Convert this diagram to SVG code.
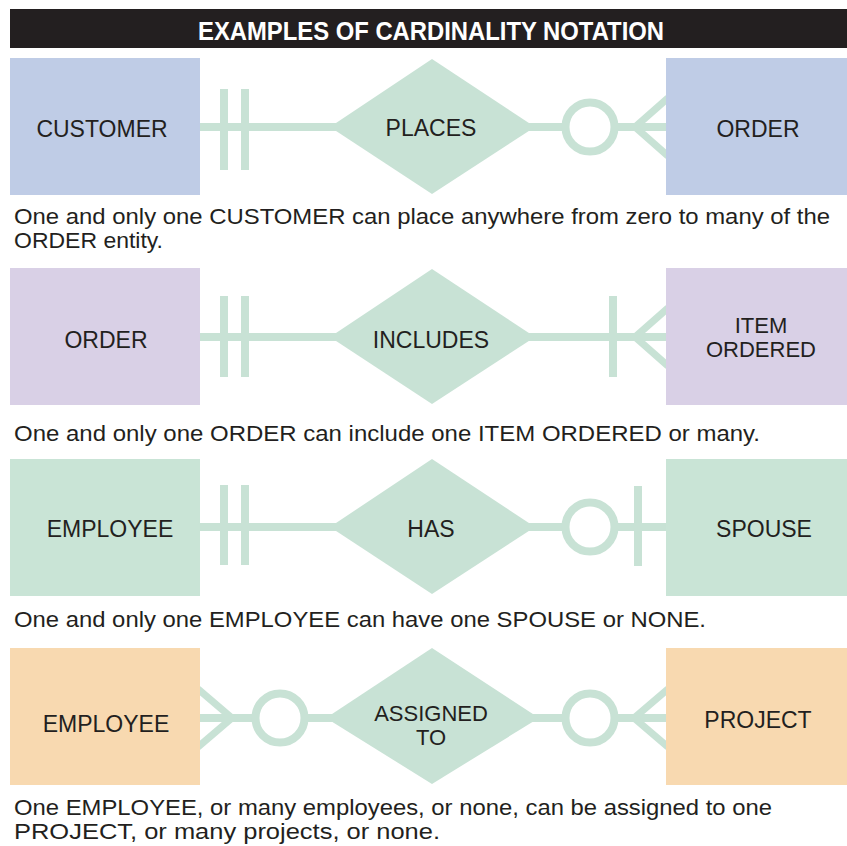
<svg xmlns="http://www.w3.org/2000/svg" width="847" height="846" viewBox="0 0 847 846">
<style>
.ln{stroke:#c8e2d5;stroke-width:8;fill:none}
.cf{stroke:#c8e2d5;stroke-width:7;fill:none}
.ring{stroke:#c8e2d5;stroke-width:8;fill:#ffffff}
.tk{fill:#c8e2d5}
.dia{fill:#c8e2d5}
.lbl{font-family:"Liberation Sans",Arial,sans-serif;font-size:23px;fill:#231f20;text-anchor:middle}
.lbl2{font-family:"Liberation Sans",Arial,sans-serif;font-size:22px;fill:#231f20;text-anchor:middle}
.desc{font-family:"Liberation Sans",Arial,sans-serif;font-size:22.5px;fill:#231f20}
.blue{fill:#bfcce6}.purple{fill:#d9d0e6}.green{fill:#c9e4d6}.orange{fill:#f8d9b0}
</style>
<rect width="847" height="846" fill="#ffffff"/>
<g id="header">
<rect x="10" y="9" width="837" height="39" fill="#231f20"/>
<text x="431" y="40" font-family="'Liberation Sans',Arial,sans-serif" font-size="26" font-weight="bold" fill="#ffffff" text-anchor="middle" textLength="466" lengthAdjust="spacingAndGlyphs">EXAMPLES OF CARDINALITY NOTATION</text>
</g>
<g id="connectors">
<line class="ln" x1="200" y1="127" x2="666" y2="127"/>
<rect class="tk" x="220" y="89" width="8" height="81"/>
<rect class="tk" x="241" y="89" width="8" height="81"/>
<circle class="ring" cx="590" cy="127" r="24.5"/>
<polyline class="cf" points="668,98 635,127 668,156"/>
<line class="ln" x1="200" y1="337" x2="666" y2="337"/>
<rect class="tk" x="220" y="296" width="8" height="81"/>
<rect class="tk" x="241" y="296" width="8" height="81"/>
<rect class="tk" x="609" y="296" width="8" height="81"/>
<polyline class="cf" points="668,308 635,337 668,366"/>
<line class="ln" x1="200" y1="527" x2="666" y2="527"/>
<rect class="tk" x="220" y="485" width="8" height="80"/>
<rect class="tk" x="241" y="485" width="8" height="80"/>
<circle class="ring" cx="590" cy="527" r="24.5"/>
<rect class="tk" x="634" y="486" width="8" height="80"/>
<line class="ln" x1="200" y1="718" x2="666" y2="718"/>
<polyline class="cf" points="198,689 232,718 198,747"/>
<circle class="ring" cx="280" cy="718" r="24.5"/>
<circle class="ring" cx="590" cy="718" r="24.5"/>
<polyline class="cf" points="668,689 634,718 668,747"/>
</g>
<g id="customer"><rect class="blue" x="10" y="58" width="190" height="137"/><text class="lbl" x="102" y="137">CUSTOMER</text></g>
<g id="places"><polygon class="dia" points="330,127 432,59 535,127 432,194"/><text class="lbl" x="431" y="136">PLACES</text></g>
<g id="order1"><rect class="blue" x="666" y="58" width="181" height="137"/><text class="lbl" x="758" y="137">ORDER</text></g>
<text class="desc" x="14" y="224" textLength="816" lengthAdjust="spacingAndGlyphs">One and only one CUSTOMER can place anywhere from zero to many of the</text>
<text class="desc" x="14" y="248" textLength="149" lengthAdjust="spacingAndGlyphs">ORDER entity.</text>
<g id="order2"><rect class="purple" x="10" y="268" width="190" height="137"/><text class="lbl" x="106" y="348">ORDER</text></g>
<g id="includes"><polygon class="dia" points="330,337 432,269 535,337 432,404"/><text class="lbl" x="431" y="348">INCLUDES</text></g>
<g id="item"><rect class="purple" x="666" y="268" width="181" height="137"/><text class="lbl2" x="761" y="333">ITEM</text><text class="lbl2" x="761" y="357">ORDERED</text></g>
<text class="desc" x="14" y="441" textLength="746" lengthAdjust="spacingAndGlyphs">One and only one ORDER can include one ITEM ORDERED or many.</text>
<g id="employee1"><rect class="green" x="10" y="459" width="190" height="137"/><text class="lbl" x="110" y="537">EMPLOYEE</text></g>
<g id="has"><polygon class="dia" points="330,527 432,459 535,527 432,594"/><text class="lbl" x="431" y="537">HAS</text></g>
<g id="spouse"><rect class="green" x="666" y="459" width="181" height="137"/><text class="lbl" x="764" y="537">SPOUSE</text></g>
<text class="desc" x="14" y="627" textLength="692" lengthAdjust="spacingAndGlyphs">One and only one EMPLOYEE can have one SPOUSE or NONE.</text>
<g id="employee2"><rect class="orange" x="10" y="648" width="190" height="137"/><text class="lbl" x="106" y="732">EMPLOYEE</text></g>
<g id="assigned"><polygon class="dia" points="326,718 432,648 539,718 432,784"/><text class="lbl2" x="431" y="721">ASSIGNED</text><text class="lbl2" x="431" y="745">TO</text></g>
<g id="project"><rect class="orange" x="666" y="648" width="181" height="137"/><text class="lbl" x="758" y="728">PROJECT</text></g>
<text class="desc" x="14" y="815" textLength="758" lengthAdjust="spacingAndGlyphs">One EMPLOYEE, or many employees, or none, can be assigned to one</text>
<text class="desc" x="14" y="839" textLength="426" lengthAdjust="spacingAndGlyphs">PROJECT, or many projects, or none.</text>
</svg>
